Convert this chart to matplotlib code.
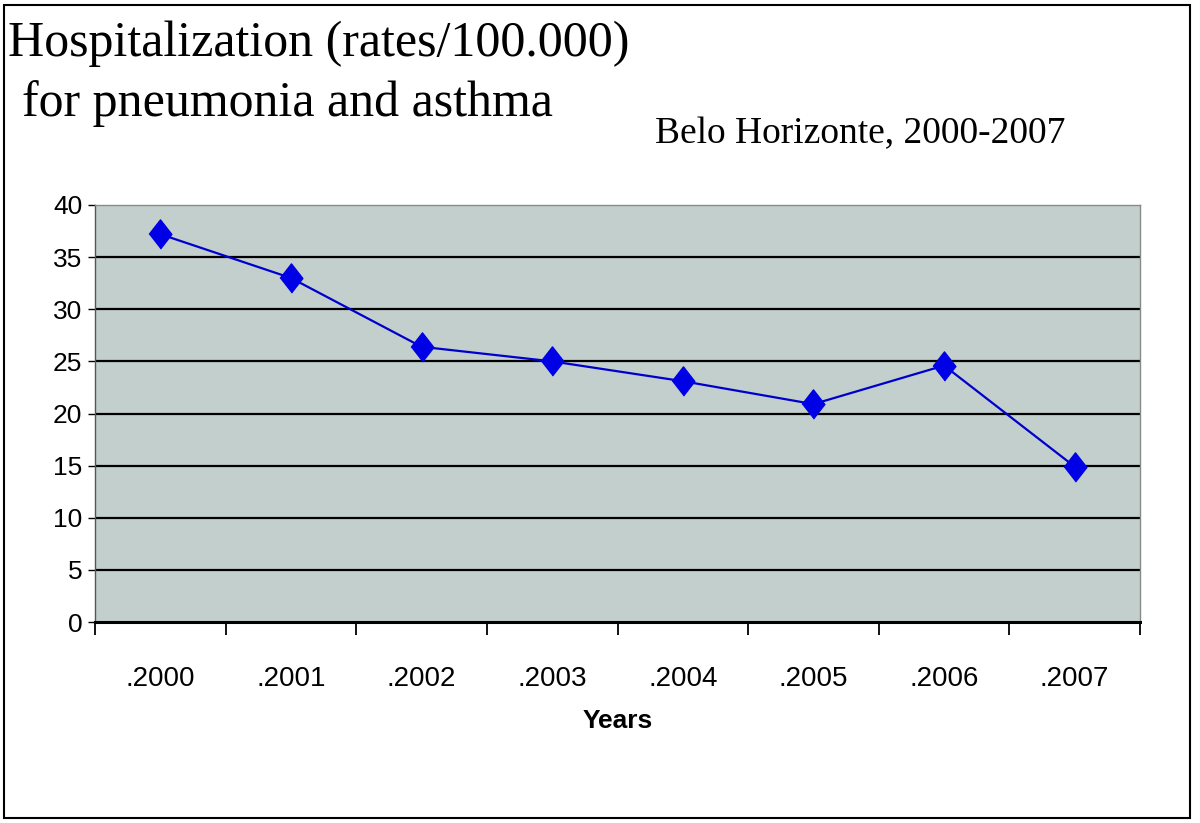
import matplotlib.pyplot as plt
from matplotlib.patches import Rectangle

# values
years = [".2000", ".2001", ".2002", ".2003", ".2004", ".2005", ".2006", ".2007"]
rates = [37.2, 33.0, 26.4, 25.0, 23.1, 20.9, 24.6, 14.9]
y_ticks = [0, 5, 10, 15, 20, 25, 30, 35, 40]

W, H = 1200, 823
fig = plt.figure(figsize=(W / 100, H / 100), dpi=100)
fig.patch.set_facecolor("white")

# outer frame of the picture
fig.patches.append(Rectangle((4 / W, 1 - 818 / H), 1186 / W, 813 / H,
                             transform=fig.transFigure, fill=False,
                             edgecolor="black", linewidth=1.5))

serif = "Liberation Serif"
sans = "Liberation Sans"

fig.text(8 / W, 1 - 44 / H, "Hospitalization (rates/100.000)", family=serif,
         fontsize=36, va="center", ha="left")
fig.text(22 / W, 1 - 104 / H, "for pneumonia and asthma", family=serif,
         fontsize=36, va="center", ha="left")
fig.text(655 / W, 1 - 134 / H, "Belo Horizonte, 2000-2007", family=serif,
         fontsize=27, va="center", ha="left")

ax = fig.add_axes([95 / W, 1 - 622 / H, 1045 / W, 417 / H])
ax.set_facecolor("#c3cfcd")

x = list(range(len(years)))
ax.set_xlim(-0.5, len(years) - 0.5)
ax.set_ylim(0, 40)

for v in y_ticks[1:-1]:
    ax.axhline(v, color="black", linewidth=1.6, zorder=1)

marker = [(-0.78, 0), (0, 1), (0.78, 0), (0, -1)]
ax.plot(x, rates, color="#0000cc", linewidth=1.6, zorder=3)
ax.plot(x, rates, linestyle="none", marker=marker, markersize=21,
        color="#0000e6", zorder=4)

ax.set_yticks(y_ticks)
ax.set_yticklabels([str(v) for v in y_ticks], family=sans, fontsize=19)
ax.tick_params(axis="y", direction="out", length=5, width=1, pad=4)

# ticks sit between categories, labels sit on the categories
ax.set_xticks([i - 0.5 for i in range(len(years) + 1)])
ax.set_xticklabels([])
ax.set_xticks(x, minor=True)
ax.set_xticklabels(years, minor=True, family=sans, fontsize=20)
ax.tick_params(axis="x", which="major", direction="out", length=9, width=1.3)
ax.tick_params(axis="x", which="minor", length=0, pad=32)

ax.set_xlabel("Years", family=sans, fontsize=19, fontweight="bold", labelpad=12)

ax.spines["bottom"].set_linewidth(2.2)
ax.spines["left"].set_linewidth(1.0)
ax.spines["left"].set_color("#555555")
for side in ("top", "right"):
    ax.spines[side].set_color("#8a8a8a")
    ax.spines[side].set_linewidth(1.0)

fig.savefig("out.png", dpi=100)
